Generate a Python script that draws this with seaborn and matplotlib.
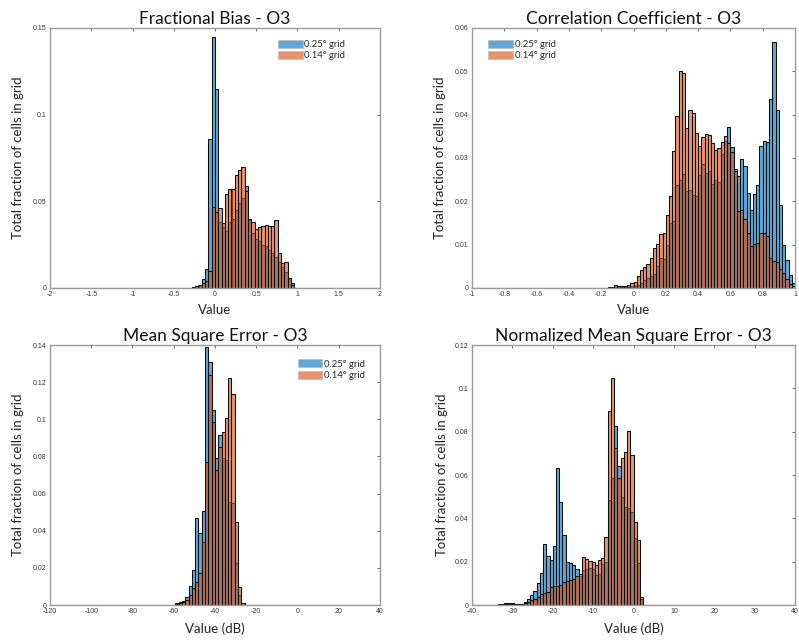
import numpy as np
import pandas as pd
import matplotlib
matplotlib.use("Agg")
import matplotlib.pyplot as plt
from matplotlib.patches import Patch
from matplotlib.ticker import FuncFormatter
import seaborn as sns

# ---------------------------------------------------------------- data
SERIES = ["0.25° grid", "0.14° grid"]
TITLES = ["Fractional Bias - O3", "Correlation Coefficient - O3",
          "Mean Square Error - O3", "Normalized Mean Square Error - O3"]
XLABELS = ["Value", "Value", "Value (dB)", "Value (dB)"]
YLABEL = "Total fraction of cells in grid"
N_BINS = 100

# Fractional bias: 100 bins on [-2, 2]; values start at bin index 43 (-0.28)
fb_range = (-2.0, 2.0)
fb_first = 43
fb_coarse = [0.0005, 0.001, 0.002, 0.005, 0.011, 0.086, 0.145, 0.115, 0.038,
             0.035, 0.033, 0.038, 0.040, 0.045, 0.049, 0.052, 0.059, 0.039,
             0.032, 0.028, 0.027, 0.025, 0.024, 0.022, 0.020, 0.018, 0.015,
             0.012, 0.009, 0.006, 0.003]
fb_fine = [0.0005, 0.001, 0.002, 0.003, 0.004, 0.010, 0.047, 0.044, 0.046,
           0.0375, 0.054, 0.057, 0.057, 0.065, 0.068, 0.070, 0.056, 0.040,
           0.038, 0.034, 0.035, 0.036, 0.0365, 0.036, 0.036, 0.039, 0.020,
           0.0145, 0.015, 0.006, 0.002]

# Correlation coefficient: 100 bins on [-1, 1]; values start at bin 42 (-0.16)
cc_range = (-1.0, 1.0)
cc_first = 42
cc_coarse = [0.0001, 0.0001, 0.0002, 0.0002, 0.0002, 0.0003, 0.0003, 0.0004,
             0.0005, 0.0008, 0.0012, 0.0019, 0.0023, 0.0027, 0.0032, 0.0050,
             0.0069, 0.0068, 0.0100, 0.0150, 0.0154, 0.0238, 0.0250, 0.0262,
             0.0223, 0.0227, 0.0215, 0.0212, 0.0260, 0.0285, 0.0265, 0.0270,
             0.0240, 0.0250, 0.0245, 0.0310, 0.0340, 0.0371, 0.0325, 0.0275,
             0.0258, 0.0298, 0.0282, 0.0220, 0.0180, 0.0218, 0.0238, 0.0327,
             0.0340, 0.0338, 0.0436, 0.0568, 0.0410, 0.0192, 0.0100, 0.0065,
             0.0031, 0.0012]
cc_fine = [0.0003, 0.0003, 0.0006, 0.0005, 0.0004, 0.0005, 0.0008, 0.0012,
           0.0015, 0.0027, 0.0042, 0.0048, 0.0055, 0.0069, 0.0092, 0.0102,
           0.0125, 0.0127, 0.0169, 0.0212, 0.0315, 0.0398, 0.0500, 0.0495,
           0.0369, 0.0410, 0.0403, 0.0358, 0.0327, 0.0348, 0.0355, 0.0352,
           0.0335, 0.0318, 0.0323, 0.0338, 0.0350, 0.0335, 0.0314, 0.0270,
           0.0178, 0.0180, 0.0160, 0.0127, 0.0096, 0.0102, 0.0105, 0.0127,
           0.0127, 0.0119, 0.0069, 0.0062, 0.0060, 0.0045, 0.0035, 0.0020,
           0.0010, 0.0005]

# Mean square error (dB): 100 bins on [-120, 40]; values start at bin 38
mse_range = (-120.0, 40.0)
mse_first = 38
mse_coarse = [0.001, 0.0015, 0.002, 0.0045, 0.010, 0.0188, 0.0467, 0.0386,
              0.0508, 0.139, 0.131, 0.105, 0.079, 0.0915, 0.079, 0.078,
              0.0556, 0.0547, 0.0224, 0.0054, 0.001]
mse_fine = [0.0005, 0.001, 0.0018, 0.0027, 0.0054, 0.009, 0.0126, 0.017,
            0.034, 0.077, 0.124, 0.0987, 0.0727, 0.085, 0.093, 0.1005,
            0.122, 0.1135, 0.0449, 0.0099, 0.001]

# Normalized mean square error (dB): 100 bins on [-40, 40]; values start at bin 8
nmse_range = (-40.0, 40.0)
nmse_first = 8
nmse_coarse = [0.0003, 0.0005, 0.0008, 0.0010, 0.0008, 0.0004, 0.0004, 0.0006,
               0.0012, 0.0027, 0.0046, 0.0065, 0.0100, 0.0148, 0.0282, 0.0226,
               0.0208, 0.0273, 0.0631, 0.0475, 0.0323, 0.0200, 0.0192, 0.0185,
               0.0164, 0.0135, 0.0160, 0.0168, 0.0169, 0.0166, 0.0138, 0.0145,
               0.0190, 0.0200, 0.0485, 0.0588, 0.0828, 0.0642, 0.0500, 0.0454,
               0.0446, 0.0430, 0.0308, 0.0192, 0.0030]
nmse_fine = [0.0000, 0.0002, 0.0003, 0.0005, 0.0005, 0.0003, 0.0004, 0.0005,
             0.0009, 0.0015, 0.0022, 0.0027, 0.0038, 0.0050, 0.0057, 0.0062,
             0.0082, 0.0088, 0.0090, 0.0093, 0.0104, 0.0110, 0.0115, 0.0120,
             0.0135, 0.0145, 0.0222, 0.0212, 0.0205, 0.0200, 0.0185, 0.0208,
             0.0215, 0.0315, 0.0895, 0.1050, 0.0726, 0.0588, 0.0677, 0.0705,
             0.0805, 0.0692, 0.0382, 0.0300, 0.0035]

# axis ticks
fb_xticks = [-2, -1.5, -1, -0.5, 0, 0.5, 1, 1.5, 2]
fb_yticks = [0, 0.05, 0.1, 0.15]
cc_xticks = [-1, -0.8, -0.6, -0.4, -0.2, 0, 0.2, 0.4, 0.6, 0.8, 1]
cc_yticks = [0, 0.01, 0.02, 0.03, 0.04, 0.05, 0.06]
mse_xticks = [-120, -100, -80, -60, -40, -20, 0, 20, 40]
mse_yticks = [0, 0.02, 0.04, 0.06, 0.08, 0.1, 0.12, 0.14]
nmse_xticks = [-40, -30, -20, -10, 0, 10, 20, 30, 40]
nmse_yticks = [0, 0.02, 0.04, 0.06, 0.08, 0.1, 0.12]

# ---------------------------------------------------------------- style
BLUE = (0.0, 0.447, 0.741)
ORANGE = (0.85, 0.325, 0.098)
FACE_ALPHA = 0.62
EDGE = (0.05, 0.05, 0.05, 1.0)
SPINE = "#9a9a9a"
TICKTXT = "#333333"

sns.set_style("white")
plt.rcParams["font.family"] = ["Lato", "DejaVu Sans"]

W, H = 799, 640
fig = plt.figure(figsize=(W / 100, H / 100), dpi=100)


def px_rect(x0, y0, x1, y1):
    return [x0 / W, 1 - y1 / H, (x1 - x0) / W, (y1 - y0) / H]


rects = [px_rect(50, 28, 380, 288), px_rect(472, 28, 795, 288),
         px_rect(50, 345, 380, 605), px_rect(472, 345, 795, 605)]

panels = [
    (fb_range, fb_first, fb_coarse, fb_fine, fb_xticks, fb_yticks),
    (cc_range, cc_first, cc_coarse, cc_fine, cc_xticks, cc_yticks),
    (mse_range, mse_first, mse_coarse, mse_fine, mse_xticks, mse_yticks),
    (nmse_range, nmse_first, nmse_coarse, nmse_fine, nmse_xticks, nmse_yticks),
]

fmt = FuncFormatter(lambda v, _: f"{v:g}")
legend_spec = [("upper right", (0.895, 0.955)), ("upper left", (0.05, 0.955)),
               ("upper right", (0.955, 0.945)), None]
ylabel_x = [-0.079, -0.080, -0.079, -0.074]
xlabel_y = [-0.062, -0.062, -0.069, -0.069]

for i, (rng, first, coarse, fine, xt, yt) in enumerate(panels):
    ax = fig.add_axes(rects[i])
    edges = np.linspace(rng[0], rng[1], N_BINS + 1)
    width = edges[1] - edges[0]
    for vals, col in ((coarse, BLUE), (fine, ORANGE)):
        centers = edges[first:first + len(vals)] + width / 2
        df = pd.DataFrame({"value": centers, "fraction": vals})
        sns.histplot(data=df, x="value", weights="fraction", bins=N_BINS,
                     binrange=rng, ax=ax,
                     facecolor=(*col, FACE_ALPHA), edgecolor=EDGE,
                     linewidth=0.75, stat="count")
    ax.set_xlim(rng)
    ax.set_ylim(yt[0], yt[-1])
    ax.set_xticks(xt)
    ax.set_yticks(yt)
    ax.xaxis.set_major_formatter(fmt)
    ax.yaxis.set_major_formatter(fmt)
    ax.tick_params(direction="in", top=True, right=True, length=2.5,
                   width=0.6, color="#555555", labelsize=5, labelcolor=TICKTXT,
                   pad=2.5)
    for lab in ax.get_xticklabels() + ax.get_yticklabels():
        lab.set_fontfamily(["Liberation Sans", "DejaVu Sans"])
    for sp in ax.spines.values():
        sp.set_visible(True)
        sp.set_color(SPINE)
        sp.set_linewidth(1.0)
    ax.set_title(TITLES[i], fontsize=12.5, pad=3.0, color="#111111")
    ax.set_xlabel(XLABELS[i], fontsize=9.5, color="#222222")
    ax.set_ylabel(YLABEL, fontsize=9.5, color="#222222")
    ax.xaxis.set_label_coords(0.5, xlabel_y[i])
    ax.yaxis.set_label_coords(ylabel_x[i], 0.5)
    if legend_spec[i] is not None:
        loc, anchor = legend_spec[i]
        handles = [Patch(facecolor=(*BLUE, FACE_ALPHA), edgecolor="#bbbbbb", linewidth=0.5),
                   Patch(facecolor=(*ORANGE, FACE_ALPHA), edgecolor="#bbbbbb", linewidth=0.5)]
        ax.legend(handles, SERIES, loc=loc, bbox_to_anchor=anchor, frameon=False,
                  fontsize=6.8, handlelength=2.6, handleheight=0.95,
                  handletextpad=0.2, labelspacing=0.2, borderpad=0,
                  borderaxespad=0)

fig.savefig("out.png", dpi=100, facecolor="white")
